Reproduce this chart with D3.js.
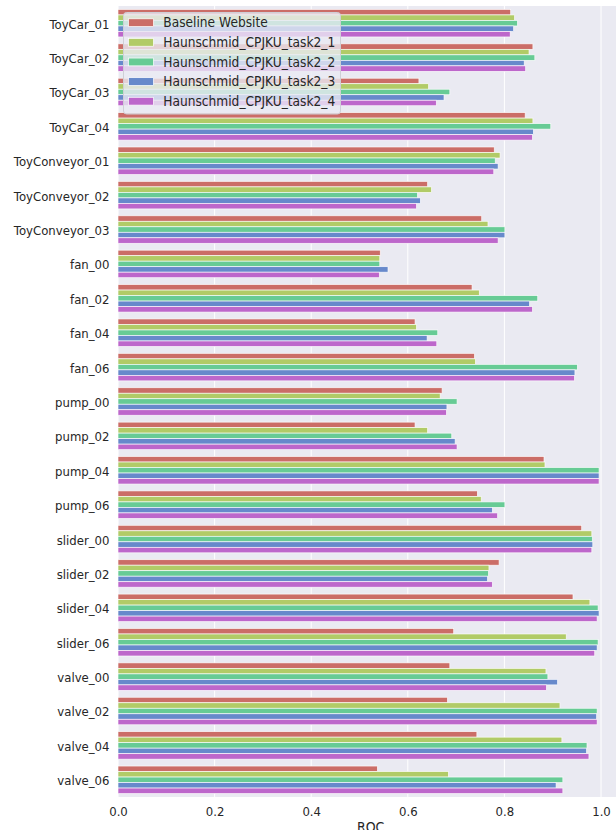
<!DOCTYPE html>
<html>
<head>
<meta charset="utf-8">
<script src="https://cdn.jsdelivr.net/npm/d3@7"></script>
<style>
  html, body { margin: 0; padding: 0; background: #ffffff; }
  svg { display: block; }
  text { font-family: "DejaVu Sans", sans-serif; fill: #262626; }
</style>
</head>
<body>
<svg id="chart" width="616" height="830"></svg>
<script>
// ---------- data ----------
const categories = ["ToyCar_01","ToyCar_02","ToyCar_03","ToyCar_04","ToyConveyor_01","ToyConveyor_02","ToyConveyor_03",
  "fan_00","fan_02","fan_04","fan_06","pump_00","pump_02","pump_04","pump_06",
  "slider_00","slider_02","slider_04","slider_06","valve_00","valve_02","valve_04","valve_06"];
const seriesNames = ["Baseline Website","Haunschmid_CPJKU_task2_1","Haunschmid_CPJKU_task2_2","Haunschmid_CPJKU_task2_3","Haunschmid_CPJKU_task2_4"];
const baselineWebsite = [0.813,0.859,0.623,0.843,0.779,0.641,0.753,0.543,0.733,0.615,0.738,0.671,0.615,0.882,0.744,0.960,0.789,0.942,0.695,0.687,0.682,0.743,0.537];
const task2_1 = [0.821,0.851,0.643,0.859,0.791,0.649,0.766,0.542,0.748,0.618,0.740,0.667,0.641,0.884,0.752,0.981,0.768,0.977,0.928,0.886,0.915,0.919,0.684];
const task2_2 = [0.827,0.863,0.687,0.896,0.781,0.620,0.801,0.542,0.869,0.662,0.951,0.702,0.691,0.996,0.801,0.982,0.767,0.994,0.994,0.890,0.992,0.971,0.921];
const task2_3 = [0.819,0.841,0.675,0.860,0.787,0.626,0.801,0.559,0.852,0.640,0.946,0.681,0.698,0.996,0.775,0.983,0.765,0.996,0.992,0.910,0.991,0.970,0.907];
const task2_4 = [0.812,0.844,0.659,0.858,0.778,0.618,0.787,0.541,0.858,0.660,0.945,0.680,0.702,0.996,0.786,0.981,0.775,0.992,0.987,0.887,0.992,0.975,0.921];
const seriesValues = [baselineWebsite, task2_1, task2_2, task2_3, task2_4];
const colors = ["#cb6d67","#b1cb67","#67cb95","#6789cb","#bd67cb"];
const xTicks = [0.0, 0.2, 0.4, 0.6, 0.8, 1.0];
const xLabel = "ROC";

// ---------- layout ----------
const svg = d3.select("#chart");
const mLeft = 118, mTop = 6, mBottom = 797, xMax = 1.046;
const sx = 0.9; // horizontal text compression seen in the reference
const x = d3.scaleLinear().domain([0, xMax]).range([mLeft, mLeft + 483 * xMax]);
const y = d3.scaleBand().domain(categories).range([mTop, mBottom]).padding(0);
const bw = y.bandwidth();
const inner = d3.scaleBand().domain(seriesNames).range([0.1 * bw, 0.9 * bw]).padding(0);

svg.append("defs").append("clipPath").attr("id", "clip")
  .append("rect").attr("x", mLeft).attr("y", mTop).attr("width", 616 - mLeft).attr("height", mBottom - mTop);

// background
svg.append("rect").attr("x", mLeft).attr("y", mTop).attr("width", x(xMax) - mLeft).attr("height", mBottom - mTop)
  .attr("fill", "#eaeaf2");

// grid
svg.append("g").selectAll("line").data(xTicks).join("line")
  .attr("x1", d => x(d)).attr("x2", d => x(d)).attr("y1", mTop).attr("y2", mBottom)
  .attr("stroke", "#ffffff").attr("stroke-width", 1);

// bars
const rows = [];
seriesNames.forEach((s, si) => {
  categories.forEach((c, ci) => rows.push({ s, si, c, v: seriesValues[si][ci] }));
});
svg.append("g").attr("clip-path", "url(#clip)").selectAll("rect").data(rows).join("rect")
  .attr("x", x(0))
  .attr("y", d => y(d.c) + inner(d.s))
  .attr("width", d => x(d.v) - x(0))
  .attr("height", inner.bandwidth())
  .attr("fill", d => colors[d.si])
  .attr("stroke", "#ffffff").attr("stroke-width", 0.7).attr("stroke-opacity", 0.9);

// y axis
const yAxis = svg.append("g").attr("transform", `translate(${mLeft},0)`)
  .call(d3.axisLeft(y).tickSize(0).tickPadding(8.5));
yAxis.select(".domain").remove();
yAxis.selectAll("text")
  .attr("font-size", 13).attr("font-family", "DejaVu Sans, sans-serif").attr("fill", "#262626")
  .attr("dy", "0.42em")
  .attr("x", -8.5 / sx)
  .attr("transform", `scale(${sx},1)`);

// x axis
const xAxis = svg.append("g").attr("transform", `translate(0,${mBottom})`)
  .call(d3.axisBottom(x).tickValues(xTicks).tickFormat(d3.format(".1f")).tickSize(0).tickPadding(9.6));
xAxis.select(".domain").remove();
xAxis.selectAll("text")
  .attr("font-size", 13).attr("font-family", "DejaVu Sans, sans-serif").attr("fill", "#262626")
  .attr("transform", `scale(${sx},1)`);

// x label
svg.append("text")
  .attr("transform", `translate(${(mLeft + x(xMax)) / 2},832) scale(${sx},1)`)
  .attr("text-anchor", "middle").attr("font-size", 14)
  .text(xLabel);

// legend
const lg = svg.append("g");
lg.append("rect").attr("x", 123.5).attr("y", 12.5).attr("width", 217).attr("height", 101.5)
  .attr("rx", 3).attr("fill", "#eaeaf2").attr("fill-opacity", 0.8)
  .attr("stroke", "#cfcfd6").attr("stroke-width", 1);
const ly = d3.scalePoint().domain(seriesNames).range([22.7, 101.2]);
const items = lg.selectAll("g.item").data(seriesNames).join("g").attr("class", "item")
  .attr("transform", d => `translate(0,${ly(d)})`);
items.append("rect").attr("x", 128.5).attr("y", -3.9).attr("width", 25).attr("height", 7.8)
  .attr("fill", (d, i) => colors[i]).attr("stroke", "#ffffff").attr("stroke-width", 0.7);
items.append("text")
  .attr("transform", `translate(163.3,0) scale(${sx},1)`)
  .attr("dy", "0.34em").attr("font-size", 13.6)
  .text(d => d);
</script>
</body>
</html>
